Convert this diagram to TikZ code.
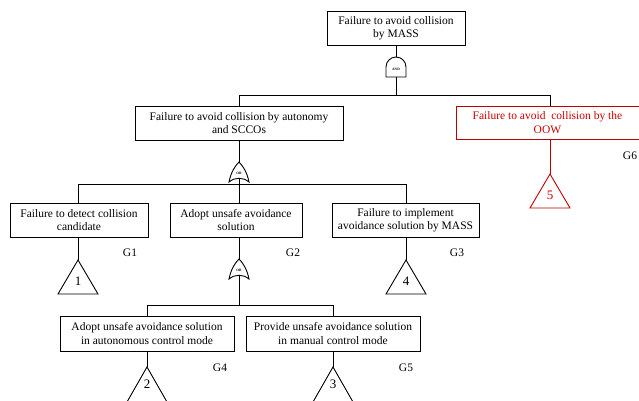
\documentclass[tikz,border=0pt]{standalone}
\usepackage{fontspec}
\setmainfont{Liberation Serif}
\newfontfamily\tnr{Liberation Serif}
\begin{document}
\begin{tikzpicture}[x=1pt,y=-1pt,
  evbox/.style={draw,line width=0.9pt,align=center,inner sep=0pt,font=\tnr\fontsize{11.5}{13.5}\selectfont},
  redbox/.style={evbox,draw=red!75!black,text=red!80!black},
  glabel/.style={font=\tnr\fontsize{11.5}{13.5}\selectfont,inner sep=0pt},
  tnum/.style={font=\tnr\fontsize{13}{15}\selectfont,inner sep=0pt},
  gatetxt/.style={font=\tnr\fontsize{3.5}{4}\selectfont\bfseries,inner sep=0pt},
  conn/.style={line width=0.9pt},
  rconn/.style={line width=0.9pt,draw=red!75!black}]
\useasboundingbox (0,0) rectangle (639,400);
\clip (0,0) rectangle (639,400);

% boxes
\node[evbox,minimum width=138pt,minimum height=34pt] (top) at (396,28) {Failure to avoid collision\\by MASS};
\node[evbox,minimum width=208pt,minimum height=34pt] (auto) at (239,123) {Failure to avoid collision by autonomy\\and SCCOs};
\node[redbox,minimum width=190pt,minimum height=33pt,anchor=west] (oow) at (456,122.5) {\hspace*{-8pt}Failure to avoid\ \ collision by the\\\hspace*{-8pt}OOW};
\node[evbox,minimum width=138pt,minimum height=34pt] (g1) at (79,220) {Failure to detect collision\\candidate};
\node[evbox,minimum width=132pt,minimum height=34pt] (g2) at (236,220) {Adopt unsafe avoidance\\solution};
\node[evbox,minimum width=147pt,minimum height=34pt] (g3) at (405.5,220) {Failure to implement\\avoidance solution by MASS};
\node[evbox,minimum width=174pt,minimum height=35pt] (g4) at (147,333.5) {Adopt unsafe avoidance solution\\in autonomous control mode};
\node[evbox,minimum width=174pt,minimum height=35pt] (g5) at (333,333.5) {Provide unsafe avoidance solution\\in manual control mode};

% G labels
\node[glabel] (lg1) at (130,253) {G1};
\node[glabel] (lg2) at (293,253) {G2};
\node[glabel] (lg3) at (457,253) {G3};
\node[glabel] (lg4) at (220,368) {G4};
\node[glabel] (lg5) at (406,368) {G5};
\node[glabel] (lg6) at (630,156) {G6};

% AND gate
\draw[conn,fill=white] (386,77) -- (386,67) arc (180:0:10pt) -- (406,77) -- cycle;
\node[gatetxt] (andg) at (396,69) {AND};
\coordinate (andtop) at (396,57);
\coordinate (andbot) at (396,77);

% OR gate 1
\draw[conn,fill=white] (229,182) .. controls (231,172) and (235,166) .. (239,162)
  .. controls (243,166) and (247,172) .. (249,182) .. controls (243,177) and (235,177) .. cycle;
\node[gatetxt] (org1) at (239,173) {OR};
\coordinate (or1top) at (239,162);
\coordinate (or1bot) at (239,178.5);

% OR gate 2
\draw[conn,fill=white] (229,279) .. controls (231,269) and (235,263) .. (239,259)
  .. controls (243,263) and (247,269) .. (249,279) .. controls (243,274) and (235,274) .. cycle;
\node[gatetxt] (org2) at (239,270) {OR};
\coordinate (or2top) at (239,259);
\coordinate (or2bot) at (239,275.5);

% triangles
\draw[conn] (78,260) -- (98,294) -- (58,294) -- cycle;
\node[tnum] (t1) at (78,281) {1};
\draw[conn] (406,260) -- (426,294) -- (386,294) -- cycle;
\node[tnum] (t4) at (406,281) {4};
\draw[rconn] (550,174) -- (570,208) -- (530,208) -- cycle;
\node[tnum,text=red!80!black] (t5) at (550,195) {5};
\draw[conn] (147,367) -- (167,402) -- (127,402) -- cycle;
\node[tnum] (t2) at (147,384) {2};
\draw[conn] (333,367) -- (353,402) -- (313,402) -- cycle;
\node[tnum] (t3) at (333,384) {3};
\coordinate (t1top) at (78,260);
\coordinate (t4top) at (406,260);
\coordinate (t5top) at (550,174);
\coordinate (t2top) at (147,367);
\coordinate (t3top) at (333,367);

% bars
\coordinate (bar1) at (396,95);
\coordinate (bar2) at (239,184);
\coordinate (bar3) at (239,305);

% connectors
\draw[conn] (top.south) -- (andtop);
\draw[conn] (andbot) -- (bar1);
\draw[conn] (bar1) -| (auto.north);
\draw[conn] (bar1) -| (550,106);
\draw[conn] (auto.south) -- (or1top);
\draw[conn] (or1bot) -- (bar2);
\draw[conn] (bar2) -| (78,203);
\draw[conn] (bar2) -| (406,203);
\draw[conn] (bar2) -- (239,203);
\draw[conn] (78,237) -- (t1top);
\draw[conn] (406,237) -- (t4top);
\draw[rconn] (550,139) -- (t5top);
\draw[conn] (239,237) -- (or2top);
\draw[conn] (or2bot) -- (bar3);
\draw[conn] (bar3) -| (g4.north);
\draw[conn] (bar3) -| (g5.north);
\draw[conn] (g4.south) -- (t2top);
\draw[conn] (g5.south) -- (t3top);
\end{tikzpicture}
\end{document}
